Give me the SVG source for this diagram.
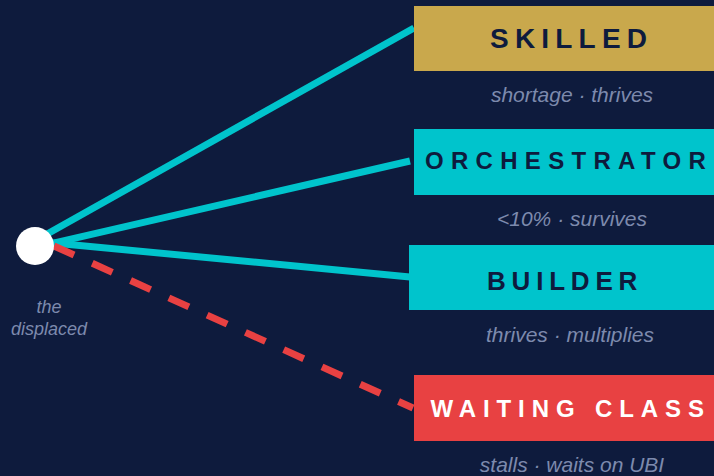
<svg xmlns="http://www.w3.org/2000/svg" width="714" height="476" viewBox="0 0 714 476">
<style>
.bg{fill:#0E1B3D}
.box-gold{fill:#C9A84C}
.box-teal{fill:#00C4CC}
.box-red{fill:#E84142}
.label{font-family:"Liberation Sans",Arial,sans-serif;font-weight:bold;fill:#0E1B3D}
.label-light{fill:#FFFFFF}
.sub{font-family:"Liberation Sans",Arial,sans-serif;font-style:italic;font-size:21px;fill:#7D8AAD;text-anchor:middle}
.origin-label{font-family:"Liberation Sans",Arial,sans-serif;font-style:italic;font-size:18px;fill:#7D8AAD;text-anchor:middle}
.link{stroke:#00C4CC;stroke-width:7;fill:none}
.link-dash{stroke:#E84142;stroke-width:7;fill:none;stroke-dasharray:22 20}
</style>
<rect class="bg" x="0" y="0" width="714" height="476"/>
<g id="connectors">
<line class="link" x1="40" y1="238" x2="414" y2="28"/>
<line class="link" x1="48" y1="244.4" x2="410" y2="161"/>
<line class="link" x1="48" y1="242.4" x2="410" y2="277"/>
<line class="link-dash" x1="54" y1="246" x2="413" y2="408"/>
</g>
<g id="origin">
<circle cx="35" cy="246" r="19" fill="#FFFFFF"/>
<text class="origin-label" x="49" y="313">the</text>
<text class="origin-label" x="49" y="335">displaced</text>
</g>
<g id="skilled">
<rect class="box-gold" x="414" y="6" width="320" height="65"/>
<text class="label" x="490" y="48" font-size="28" letter-spacing="6.2">SKILLED</text>
<text class="sub" x="572" y="102">shortage · thrives</text>
</g>
<g id="orchestrator">
<rect class="box-teal" x="414" y="129" width="320" height="66"/>
<text class="label" x="425" y="169" font-size="24" letter-spacing="7.3">ORCHESTRATOR</text>
<text class="sub" x="572" y="226">&lt;10% · survives</text>
</g>
<g id="builder">
<rect class="box-teal" x="409" y="245" width="320" height="65"/>
<text class="label" x="487" y="290" font-size="26" letter-spacing="5.8">BUILDER</text>
<text class="sub" x="570" y="342">thrives · multiplies</text>
</g>
<g id="waiting-class">
<rect class="box-red" x="414" y="375" width="320" height="66"/>
<text class="label label-light" x="430.5" y="417" font-size="24" letter-spacing="6.9">WAITING CLASS</text>
<text class="sub" x="572" y="472">stalls · waits on UBI</text>
</g>
</svg>
